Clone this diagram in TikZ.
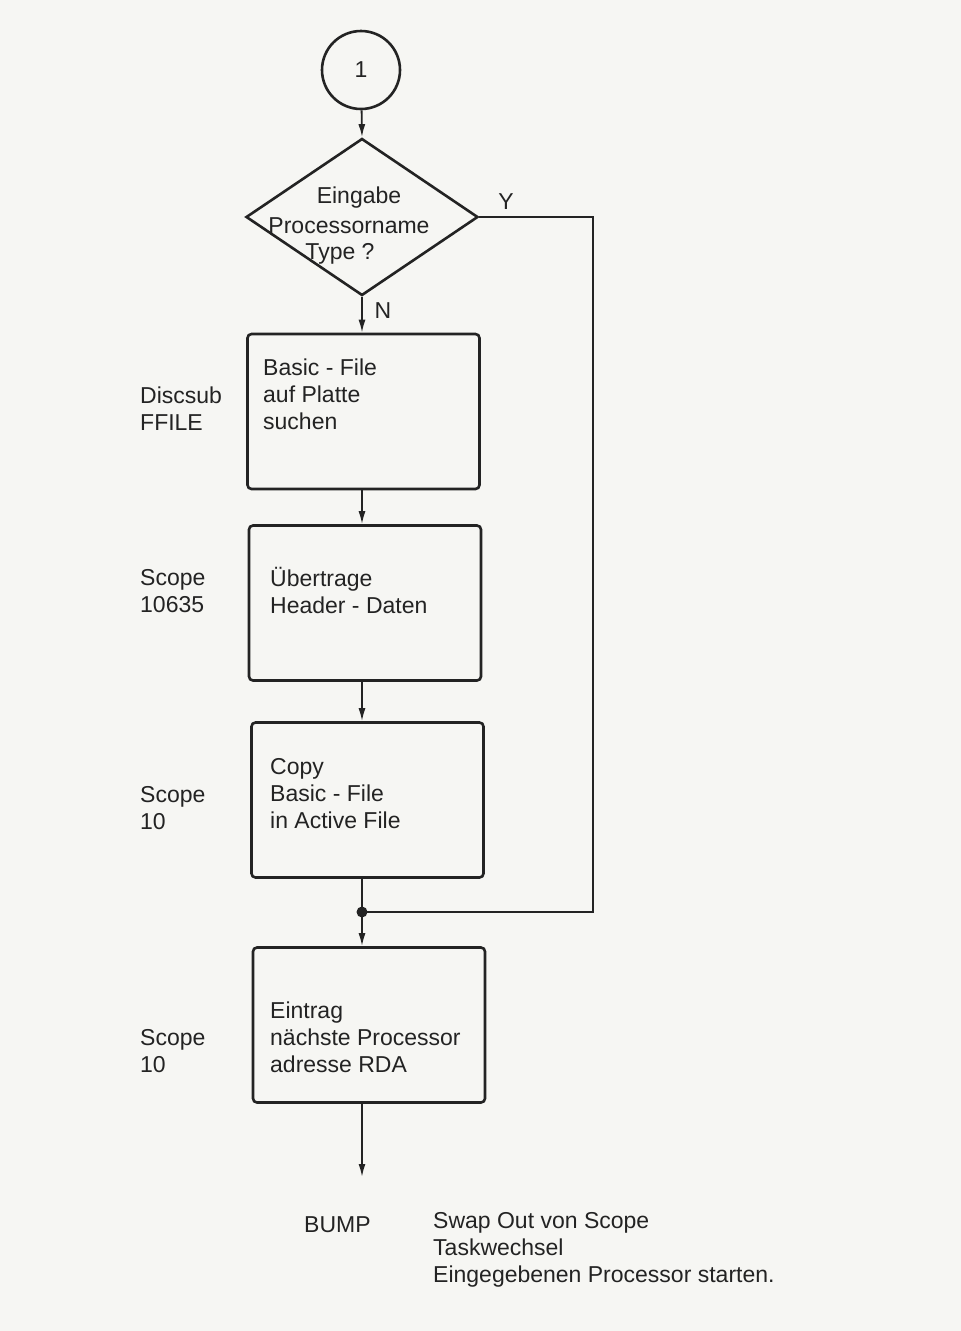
\documentclass[tikz,border=0pt]{standalone}
\usepackage{fontspec}
\setmainfont{Liberation Sans}
\usetikzlibrary{shapes.geometric,arrows.meta}
\definecolor{ink}{RGB}{35,35,35}
\definecolor{paper}{RGB}{246,246,243}
\begin{document}
\begin{tikzpicture}[x=1pt,y=-1pt,
  txt/.style={font=\fontsize{23}{27}\selectfont, text=ink, inner sep=0pt, align=left, anchor=west},
  procbox/.style={draw=ink, line width=2.6pt, rounded corners=4pt, inner sep=0pt,
                  minimum width=232pt, minimum height=155pt},
  flow/.style={draw=ink, line width=1.8pt, -{Latex[length=13pt,width=7pt]}},
  link/.style={draw=ink, line width=1.8pt}]

% paper
\fill[paper] (0,0) rectangle (961,1331);
\useasboundingbox (0,0) rectangle (961,1331);

% connector and decision
\node[draw=ink, line width=2.6pt, circle, minimum size=78pt, inner sep=0pt,
      font=\fontsize{23}{27}\selectfont, text=ink] (start) at (361,70) {1};
\node[draw=ink, line width=2.6pt, diamond, inner sep=0pt,
      minimum width=232pt, minimum height=157pt] (dec) at (362,217) {};
\node[txt, anchor=center] (dq1) at (359,198) {Eingabe};
\node[txt, anchor=center] (dq2) at (349,226) {Processorname};
\node[txt, anchor=center] (dq3) at (340,254) {Type ?};
\node[txt, anchor=center] (ylab) at (506,202) {Y};
\node[txt, anchor=center] (nlab) at (383,311) {N};

% process boxes
\node[procbox] (b1) at (363.5,411.5) {};
\node[procbox] (b2) at (365,603) {};
\node[procbox] (b3) at (367.5,800) {};
\node[procbox] (b4) at (369,1025) {};

\node[txt] (t1) at (263,394) {Basic - File\\auf Platte\\suchen};
\node[txt] (t2) at (270,590) {Übertrage\\Header - Daten};
\node[txt] (t3) at (270,794) {Copy\\Basic - File\\in Active File};
\node[txt] (t4) at (270,1037) {Eintrag\\nächste Processor\\adresse RDA};

% side labels
\node[txt] (s1) at (140,408.5) {Discsub\\FFILE};
\node[txt] (s2) at (140,591) {Scope\\10635};
\node[txt] (s3) at (140,808) {Scope\\10};
\node[txt] (s4) at (140,1051) {Scope\\10};

% bottom notes
\node[txt] (bump) at (304,1225) {BUMP};
\node[txt] (swap) at (433,1250) {Swap Out von Scope\\Taskwechsel\\Eingegebenen Processor starten.};

% flow lines
\coordinate (axis) at (362,0);
\coordinate (corner) at (593,0);
\coordinate (join) at (362,912);
\coordinate (exit) at (362,1177);

\draw[flow] (start) -- (dec.north);
\draw[flow] (dec.south) -- (b1.north -| axis);
\draw[flow] (b1.south -| axis) -- (b2.north -| axis);
\draw[flow] (b2.south -| axis) -- (b3.north -| axis);
\draw[link] (b3.south -| axis) -- (join);
\draw[flow] (join) -- (b4.north -| axis);
\draw[flow] (b4.south -| axis) -- (exit);
\draw[link] (dec.east) -- (dec.east -| corner) -- (join -| corner) -- (join);
\fill[ink] (join) circle (5.5pt);

\end{tikzpicture}
\end{document}
